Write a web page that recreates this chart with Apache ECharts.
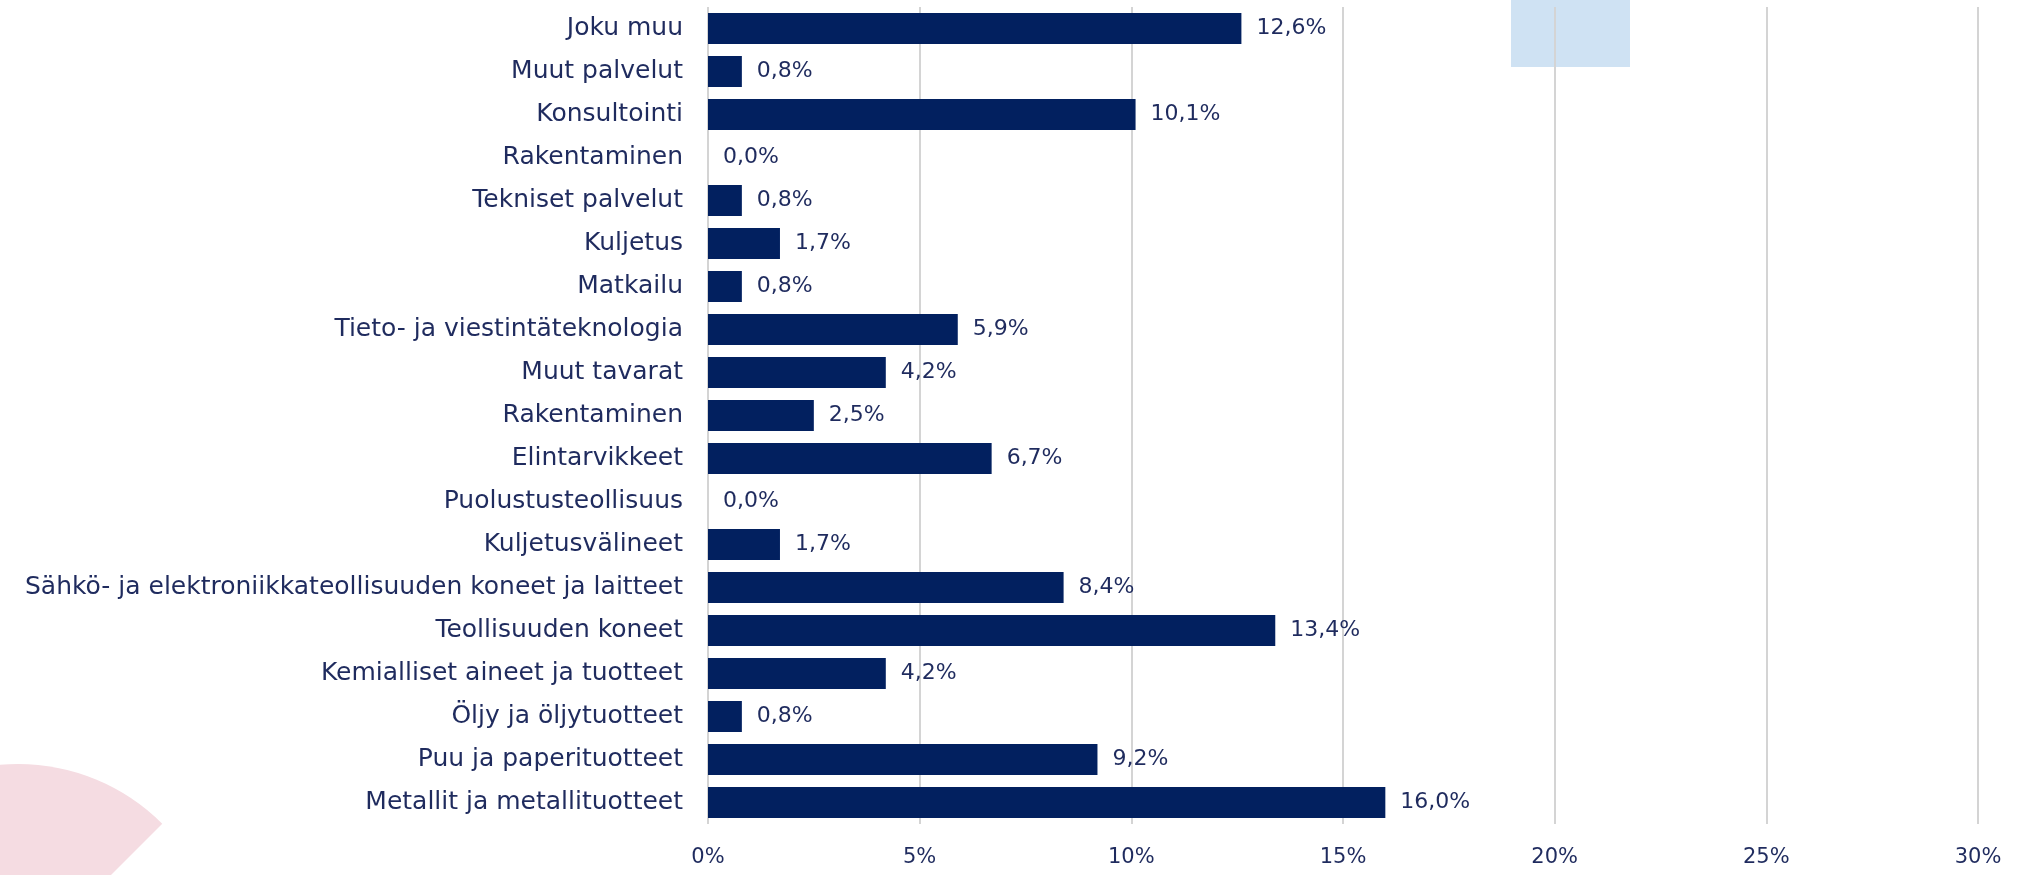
<!DOCTYPE html>
<html>
<head>
<meta charset="utf-8">
<script src="https://cdn.jsdelivr.net/npm/echarts@6/dist/echarts.min.js"></script>
<style>
  html, body { margin: 0; padding: 0; background: #fff; }
  #chart { width: 2029px; height: 875px; }
</style>
</head>
<body>
<div id="chart"></div>
<script>
// categories top to bottom as in the picture
const categories = [
  'Joku muu',
  'Muut palvelut',
  'Konsultointi',
  'Rakentaminen',
  'Tekniset palvelut',
  'Kuljetus',
  'Matkailu',
  'Tieto- ja viestintäteknologia',
  'Muut tavarat',
  'Rakentaminen',
  'Elintarvikkeet',
  'Puolustusteollisuus',
  'Kuljetusvälineet',
  'Sähkö- ja elektroniikkateollisuuden koneet ja laitteet',
  'Teollisuuden koneet',
  'Kemialliset aineet ja tuotteet',
  'Öljy ja öljytuotteet',
  'Puu ja paperituotteet',
  'Metallit ja metallituotteet'
];
const shares = [12.6, 0.8, 10.1, 0.0, 0.8, 1.7, 0.8, 5.9, 4.2, 2.5, 6.7, 0.0, 1.7, 8.4, 13.4, 4.2, 0.8, 9.2, 16.0];
const xTicks = [0, 5, 10, 15, 20, 25, 30];

const textColor = '#1f2b5e';
const font = 'DejaVu Sans';

let chart = echarts.init(document.getElementById('chart'));

let option = {
  animation: false,
  backgroundColor: '#ffffff',
  graphic: [
    {
      type: 'rect',
      shape: { x: 1511, y: 0, width: 119, height: 67 },
      style: { fill: '#cfe2f3' },
      z: -10
    },
    {
      type: 'sector',
      shape: { cx: 18, cy: 968, r: 204, startAngle: -Math.PI, endAngle: -Math.PI / 4 },
      style: { fill: '#f5dce2' },
      z: -10
    }
  ],
  grid: {
    left: 708,
    right: 51,
    top: 7,
    bottom: 51,
    containLabel: false
  },
  xAxis: {
    type: 'value',
    min: xTicks[0],
    max: xTicks[xTicks.length - 1],
    interval: 5,
    axisLine: { show: false },
    axisTick: { show: false },
    splitLine: { lineStyle: { color: '#d4d4d4', width: 2 } },
    axisLabel: {
      color: textColor,
      fontFamily: font,
      fontSize: 21,
      margin: 23,
      formatter: '{value}%'
    }
  },
  yAxis: {
    type: 'category',
    inverse: true,
    data: categories,
    axisLine: { show: false },
    axisTick: { show: false },
    axisLabel: {
      color: textColor,
      fontFamily: font,
      fontSize: 25,
      margin: 25
    }
  },
  series: [
    {
      type: 'bar',
      data: shares,
      barCategoryGap: '28%',
      itemStyle: { color: '#02205f' },
      label: {
        show: true,
        position: 'right',
        distance: 15,
        color: textColor,
        fontFamily: font,
        fontSize: 22,
        formatter: p => p.value.toFixed(1).replace('.', ',') + '%'
      }
    }
  ]
};

chart.setOption(option);
</script>
</body>
</html>
